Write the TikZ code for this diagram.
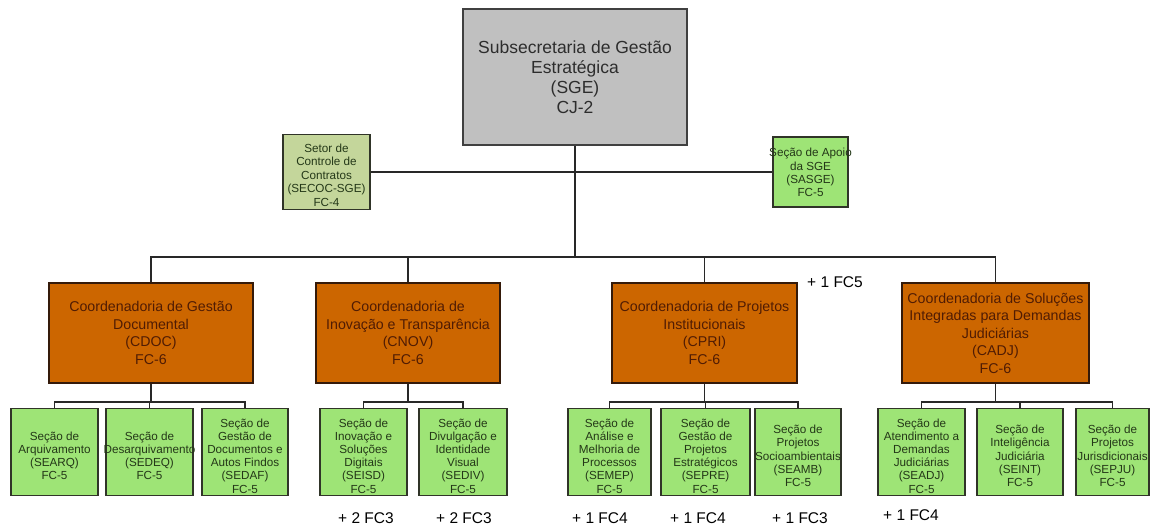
\documentclass[tikz,border=0pt]{standalone}
\usepackage{fontspec}
\setmainfont{Liberation Sans}
\usetikzlibrary{backgrounds}

\definecolor{topfill}{RGB}{192,192,192}
\definecolor{topedge}{RGB}{64,64,64}
\definecolor{toptxt}{RGB}{45,45,45}
\definecolor{coordfill}{RGB}{204,102,0}
\definecolor{coordedge}{RGB}{52,26,10}
\definecolor{coordtxt}{RGB}{80,28,4}
\definecolor{secfill}{RGB}{158,228,118}
\definecolor{ctrfill}{RGB}{196,214,155}
\definecolor{secedge}{RGB}{48,52,40}
\definecolor{sectxt}{RGB}{36,56,24}
\definecolor{linkc}{RGB}{40,40,40}

% one section box: name, x centre, width, text
\newcommand{\secao}[4]{%
  \node[secbox, minimum width=#3pt] (#1) at (#2,451.75) {};
  \node[sectext] (#1-t) at (#2,456) {#4};}

\begin{document}
\begin{tikzpicture}[x=1pt,y=-1pt,
  box/.style={rectangle, inner sep=0pt, outer sep=0pt},
  topbox/.style={box, draw=topedge, line width=2.6pt, fill=topfill},
  coordbox/.style={box, draw=coordedge, line width=2.6pt, fill=coordfill, minimum height=100pt},
  secbox/.style={box, draw=secedge, line width=1.4pt, fill=secfill, minimum height=87pt},
  ctrbox/.style={box, draw=secedge, line width=1.4pt, fill=ctrfill},
  toptext/.style={align=center, text=toptxt, inner sep=0pt, font=\fontsize{17.5}{20}\selectfont},
  coordtext/.style={align=center, text=coordtxt, inner sep=0pt, font=\fontsize{14.2}{17.5}\selectfont},
  sectext/.style={align=center, text=sectxt, inner sep=0pt, font=\fontsize{11.7}{13.2}\selectfont},
  extra/.style={inner sep=0pt, text=black, font=\fontsize{15.5}{18}\selectfont},
  link/.style={draw=linkc, line width=1.3pt}
]
\useasboundingbox (0,0) rectangle (1150,526);

% head of the unit
\node[topbox, minimum width=224pt, minimum height=136pt] (sge) at (575,77) {};
\node[toptext] (sge-t) at (575,77) {Subsecretaria de Gestão\\Estratégica\\(SGE)\\CJ-2};

% staff units beside the head
\node[ctrbox, minimum width=87pt, minimum height=75pt] (secoc) at (326.5,172) {};
\node[sectext, font=\fontsize{11.7}{13.5}\selectfont] (secoc-t) at (326.5,175) {Setor de\\Controle de\\Contratos\\(SECOC-SGE)\\FC-4};
\node[secbox, minimum width=75pt, minimum height=70pt] (sasge) at (810.5,172) {};
\node[sectext] (sasge-t) at (810.5,172.5) {Seção de Apoio\\da SGE\\(SASGE)\\FC-5};

% coordinations
\node[coordbox, minimum width=204pt] (cdoc) at (151,333) {};
\node[coordtext] (cdoc-t) at (151,333) {Coordenadoria de Gestão\\Documental\\(CDOC)\\FC-6};
\node[coordbox, minimum width=184pt] (cnov) at (408,333) {};
\node[coordtext] (cnov-t) at (408,333) {Coordenadoria de\\Inovação e Transparência\\(CNOV)\\FC-6};
\node[coordbox, minimum width=185pt] (cpri) at (704.5,333) {};
\node[coordtext] (cpri-t) at (704.5,333) {Coordenadoria de Projetos\\Institucionais\\(CPRI)\\FC-6};
\node[coordbox, minimum width=187pt] (cadj) at (995.5,333) {};
\node[coordtext] (cadj-t) at (995.5,333) {Coordenadoria de Soluções\\Integradas para Demandas\\Judiciárias\\(CADJ)\\FC-6};

% sections
\secao{searq}{54.5}{87}{Seção de\\Arquivamento\\(SEARQ)\\FC-5}
\secao{sedeq}{149.5}{87}{Seção de\\Desarquivamento\\(SEDEQ)\\FC-5}
\secao{sedaf}{245}{86}{Seção de\\Gestão de\\Documentos e\\Autos Findos\\(SEDAF)\\FC-5}
\secao{seisd}{363.5}{87}{Seção de\\Inovação e\\Soluções\\Digitais\\(SEISD)\\FC-5}
\secao{sediv}{463}{88}{Seção de\\Divulgação e\\Identidade\\Visual\\(SEDIV)\\FC-5}
\secao{semep}{609.5}{83}{Seção de\\Análise e\\Melhoria de\\Processos\\(SEMEP)\\FC-5}
\secao{sepre}{705.5}{89}{Seção de\\Gestão de\\Projetos\\Estratégicos\\(SEPRE)\\FC-5}
\secao{seamb}{798}{86}{Seção de\\Projetos\\Socioambientais\\(SEAMB)\\FC-5}
\secao{seadj}{921.5}{87}{Seção de\\Atendimento a\\Demandas\\Judiciárias\\(SEADJ)\\FC-5}
\secao{seint}{1020}{86}{Seção de\\Inteligência\\Judiciária\\(SEINT)\\FC-5}
\secao{sepju}{1112.5}{73}{Seção de\\Projetos\\Jurisdicionais\\(SEPJU)\\FC-5}

% additional functions
\node[extra] (fc-cpri) at (835,282) {+ 1 FC5};
\node[extra] (fc-seisd) at (366,518) {+ 2 FC3};
\node[extra] (fc-sediv) at (464,518) {+ 2 FC3};
\node[extra] (fc-semep) at (600,518) {+ 1 FC4};
\node[extra] (fc-sepre) at (698,518) {+ 1 FC4};
\node[extra] (fc-seamb) at (800,518) {+ 1 FC3};
\node[extra] (fc-seadj) at (911,515) {+ 1 FC4};

% connectors
\coordinate (hub) at (575,257);
\coordinate (sb) at (0,402);
\begin{pgfonlayer}{background}
  \draw[link] (sge.south) -- (hub);
  \draw[link] (secoc.east) -- (sasge.west);
  \draw[link] (cdoc.north) -- (cdoc.north |- hub) -- (cadj.north |- hub) -- (cadj.north);
  \draw[link] (cnov.north) -- (cnov.north |- hub);
  \draw[link] (cpri.north) -- (cpri.north |- hub);

  \draw[link] (cdoc.south) -- (cdoc.south |- sb);
  \draw[link] (searq.north) -- (searq.north |- sb) -- (sedaf.north |- sb) -- (sedaf.north);
  \draw[link] (sedeq.north) -- (sedeq.north |- sb);

  \draw[link] (cnov.south) -- (cnov.south |- sb);
  \draw[link] (seisd.north) -- (seisd.north |- sb) -- (sediv.north |- sb) -- (sediv.north);

  \draw[link] (cpri.south) -- (cpri.south |- sb);
  \draw[link] (semep.north) -- (semep.north |- sb) -- (seamb.north |- sb) -- (seamb.north);
  \draw[link] (sepre.north) -- (sepre.north |- sb);

  \draw[link] (cadj.south) -- (cadj.south |- sb);
  \draw[link] (seadj.north) -- (seadj.north |- sb) -- (sepju.north |- sb) -- (sepju.north);
  \draw[link] (seint.north) -- (seint.north |- sb);
\end{pgfonlayer}
\end{tikzpicture}
\end{document}
